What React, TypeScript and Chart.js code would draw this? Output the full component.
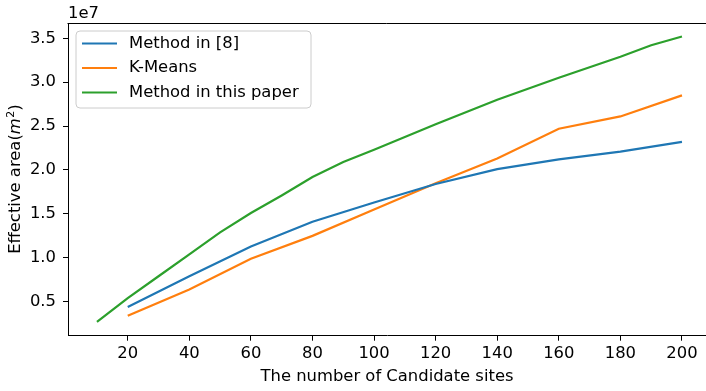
import React, { useEffect, useRef } from "react";
import { Chart, registerables } from "chart.js";

Chart.register(...registerables);

// ---- data (values in m^2) ----
const seriesLabels = ["Method in [8]", "K-Means", "Method in this paper"];
const seriesColors = ["#1f77b4", "#ff7f0e", "#2ca02c"];

const xMethod8 = [20, 40, 60, 80, 100, 120, 140, 160, 180, 200];
const yMethod8 = [0.44e7, 0.79e7, 1.13e7, 1.41e7, 1.63e7, 1.84e7, 2.01e7, 2.12e7, 2.21e7, 2.32e7];

const xKMeans = [20, 40, 60, 80, 100, 120, 140, 160, 180, 200];
const yKMeans = [0.34e7, 0.64e7, 0.99e7, 1.25e7, 1.55e7, 1.85e7, 2.13e7, 2.47e7, 2.61e7, 2.85e7];

const xPaper = [10, 20, 30, 40, 50, 60, 70, 80, 90, 100, 120, 140, 160, 170, 180, 190, 200];
const yPaper = [0.27e7, 0.54e7, 0.79e7, 1.04e7, 1.29e7, 1.51e7, 1.71e7, 1.92e7, 2.09e7, 2.23e7, 2.52e7, 2.8e7, 3.05e7, 3.17e7, 3.29e7, 3.42e7, 3.52e7];

const xTicks = [20, 40, 60, 80, 100, 120, 140, 160, 180, 200];
const yTicks = [0.5e7, 1.0e7, 1.5e7, 2.0e7, 2.5e7, 3.0e7, 3.5e7];

const xTitle = "The number of Candidate sites";
const yTitleParts = ["Effective area(", "m", "2", ")"];
const offsetText = "1e7";

const FONT = "'DejaVu Sans', sans-serif";
const FS = 16.4;

const decorPlugin = {
  id: "decor",
  afterDraw(chart: any) {
    const ctx = chart.ctx as CanvasRenderingContext2D;
    const ca = chart.chartArea;
    ctx.save();
    // top spine
    ctx.strokeStyle = "#000";
    ctx.lineWidth = 1;
    ctx.beginPath();
    ctx.moveTo(ca.left - 0.5, ca.top + 0.5);
    ctx.lineTo(chart.width, ca.top + 0.5);
    ctx.stroke();

    // offset text
    ctx.fillStyle = "#000";
    ctx.font = `${FS}px ${FONT}`;
    ctx.textAlign = "left";
    ctx.textBaseline = "alphabetic";
    ctx.fillText(offsetText, ca.left, 18);

    // y title (rotated)
    ctx.save();
    const cy = (ca.top + ca.bottom) / 2;
    ctx.translate(20, cy);
    ctx.rotate(-Math.PI / 2);
    const fN = `${FS}px ${FONT}`;
    const fI = `italic ${FS}px ${FONT}`;
    const fS = `${Math.round(FS * 0.7)}px ${FONT}`;
    ctx.font = fN; const w0 = ctx.measureText(yTitleParts[0]).width;
    ctx.font = fI; const w1 = ctx.measureText(yTitleParts[1]).width;
    ctx.font = fS; const w2 = ctx.measureText(yTitleParts[2]).width;
    ctx.font = fN; const w3 = ctx.measureText(yTitleParts[3]).width;
    let x = -(w0 + w1 + w2 + w3) / 2;
    ctx.textBaseline = "alphabetic";
    ctx.font = fN; ctx.fillText(yTitleParts[0], x, 0); x += w0;
    ctx.font = fI; ctx.fillText(yTitleParts[1], x, 0); x += w1 + 0.5;
    ctx.font = fS; ctx.fillText(yTitleParts[2], x, -6.5); x += w2;
    ctx.font = fN; ctx.fillText(yTitleParts[3], x, 0);
    ctx.restore();

    // legend
    const bx = 76, by = 31, bw = 235, bh = 77, r = 4;
    ctx.beginPath();
    ctx.moveTo(bx + r, by);
    ctx.arcTo(bx + bw, by, bx + bw, by + bh, r);
    ctx.arcTo(bx + bw, by + bh, bx, by + bh, r);
    ctx.arcTo(bx, by + bh, bx, by, r);
    ctx.arcTo(bx, by, bx + bw, by, r);
    ctx.closePath();
    ctx.fillStyle = "rgba(255,255,255,0.8)";
    ctx.fill();
    ctx.strokeStyle = "#cccccc";
    ctx.lineWidth = 1;
    ctx.stroke();
    const rows = [43.5, 68, 92.5];
    chart.data.datasets.forEach((ds: any, i: number) => {
      ctx.strokeStyle = ds.borderColor;
      ctx.lineWidth = 2.2;
      ctx.beginPath();
      ctx.moveTo(82, rows[i]);
      ctx.lineTo(117, rows[i]);
      ctx.stroke();
      ctx.fillStyle = "#000";
      ctx.font = `${FS}px ${FONT}`;
      ctx.textBaseline = "middle";
      ctx.textAlign = "left";
      ctx.fillText(ds.label, 129, rows[i]);
    });
    ctx.restore();
  },
};

export default function App() {
  const ref = useRef<HTMLCanvasElement>(null);
  useEffect(() => {
    if (!ref.current) return;
    const mk = (xs: number[], ys: number[]) => xs.map((x, i) => ({ x, y: ys[i] }));
    const datas = [mk(xMethod8, yMethod8), mk(xKMeans, yKMeans), mk(xPaper, yPaper)];
    const chart = new Chart(ref.current, {
      type: "line",
      data: {
        datasets: datas.map((d, i) => ({
          label: seriesLabels[i],
          data: d,
          borderColor: seriesColors[i],
          backgroundColor: seriesColors[i],
          borderWidth: 2.2,
          pointRadius: 0,
          tension: 0,
          fill: false,
        })),
      },
      options: {
        animation: false,
        responsive: false,
        devicePixelRatio: 1,
        layout: { padding: { top: 23, right: 0, left: 0, bottom: 0 } },
        plugins: { legend: { display: false }, tooltip: { enabled: false } },
        scales: {
          x: {
            type: "linear",
            min: 0.6,
            max: 207.8,
            afterFit: (s: any) => { s.height = 55.3; },
            afterBuildTicks: (s: any) => { s.ticks = xTicks.map((v) => ({ value: v })); },
            ticks: {
              color: "#000",
              font: { family: FONT, size: FS },
              padding: 3,
              maxRotation: 0,
              callback: (v: any) => String(v),
            },
            grid: { display: true, drawOnChartArea: false, drawTicks: true, tickLength: 5, tickColor: "#000", tickWidth: 1 },
            border: { display: true, color: "#000", width: 1 },
            title: { display: true, text: xTitle, color: "#000", font: { family: FONT, size: FS }, padding: { top: 0, bottom: 4 } },
          },
          y: {
            type: "linear",
            min: 0.113e7,
            max: 3.674e7,
            afterFit: (s: any) => { s.width = 68; },
            afterBuildTicks: (s: any) => { s.ticks = yTicks.map((v) => ({ value: v })); },
            ticks: {
              color: "#000",
              font: { family: FONT, size: FS },
              padding: 7,
              callback: (v: any) => (Number(v) / 1e7).toFixed(1),
            },
            grid: { display: true, drawOnChartArea: false, drawTicks: true, tickLength: 5, tickColor: "#000", tickWidth: 1 },
            border: { display: true, color: "#000", width: 1 },
          },
        },
      },
      plugins: [decorPlugin],
    });
    return () => chart.destroy();
  }, []);
  return (
    <div style={{ position: "absolute", left: 0, top: 0, width: 706, height: 391, background: "#fff" }}>
      <canvas ref={ref} width={706} height={391} style={{ display: "block" }} />
    </div>
  );
}
